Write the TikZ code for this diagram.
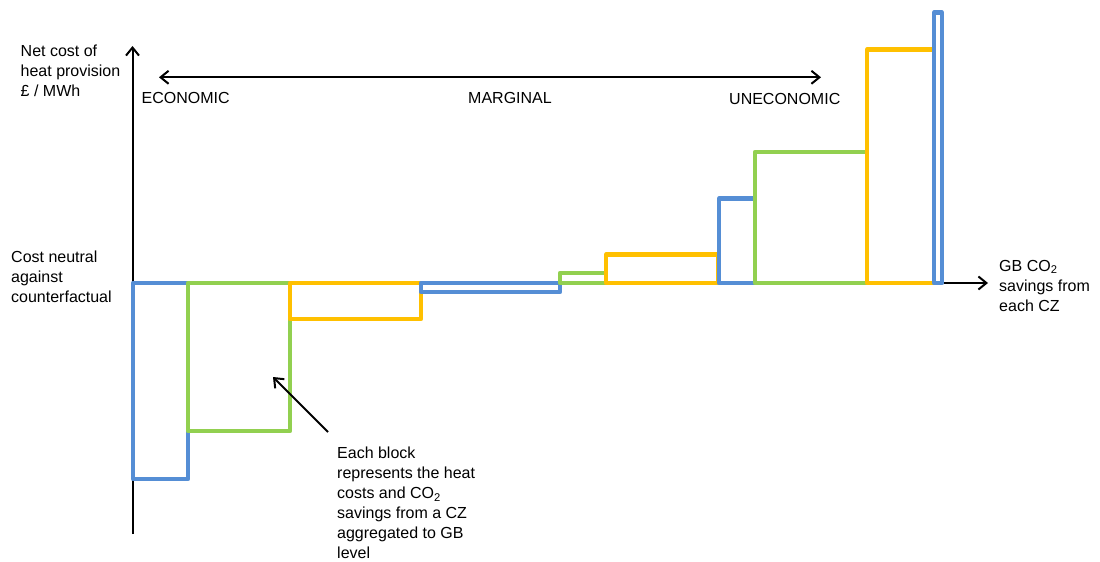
\documentclass[tikz,border=0pt]{standalone}
\usepackage{fontspec}
\setmainfont{Liberation Sans}
\usetikzlibrary{arrows.meta}
\definecolor{cblue}{RGB}{85,142,213}
\definecolor{cgreen}{RGB}{146,208,80}
\definecolor{corange}{RGB}{255,192,0}
\tikzset{
  lbl/.style={anchor=north west,inner sep=0pt,align=left,font=\fontsize{16}{20}\selectfont},
  axisline/.style={line width=2pt,-{Straight Barb[length=8pt,width=13pt,line width=2pt]}},
  dblarrow/.style={line width=2pt,{Straight Barb[length=8pt,width=13pt]}-{Straight Barb[length=8pt,width=13pt]}},
  block/.style={line width=4.2pt,line join=round}
}
\begin{document}
\begin{tikzpicture}[x=1pt,y=-1pt]
\useasboundingbox (0,0) rectangle (1100,562);
% axes
\coordinate (ybot) at (132.5,534);
\coordinate (ytop) at (132.5,46);
\coordinate (orig) at (133,283);
\coordinate (xend) at (988,283);
\draw[axisline] (ybot) -- (ytop);
\draw[line width=2pt] (orig) -- (942,283);
% blocks
\draw[block,cblue]   (133,283) rectangle (188,479);
\draw[block,cgreen]  (188,283) rectangle (290,431);
\draw[block,corange] (290,283) rectangle (421,319);
\draw[block,cblue]   (421,283) rectangle (560,292);
\draw[block,cgreen]  (560,273) rectangle (606,283);
\draw[block,corange] (606,254.5) rectangle (718,283);
\draw[block,cblue]   (719,198.5) rectangle (755,283);
\draw[block,cgreen]  (755,152) rectangle (867,283);
\draw[block,corange] (867,49.5) rectangle (934,283);
\draw[block,cblue]   (934,12.5) rectangle (942,283);
\coordinate (xstart) at (944,283);
\draw[axisline] (xstart) -- (xend);
% top double arrow
\coordinate (dl) at (159,77.3);
\coordinate (dr) at (821,77.3);
\draw[dblarrow] (dl) -- (dr);
% labels
\node[lbl] (ylab) at (20.5,45) {Net cost of\\heat provision\\£ / MWh};
\node[lbl] (neutral) at (11,251) {Cost neutral\\against\\counterfactual};
\node[lbl] (xlab) at (999,260) {GB CO\textsubscript{2}\\savings from\\each CZ};
\node[lbl] (eco) at (141.5,91.7) {ECONOMIC};
\node[lbl] (marg) at (468,91.7) {MARGINAL};
\node[lbl] (uneco) at (729,92.7) {UNECONOMIC};
\node[lbl] (note) at (337,447) {Each block\\represents the heat\\costs and CO\textsubscript{2}\\savings from a CZ\\aggregated to GB\\level};
% annotation arrow
\coordinate (ntail) at (328,432);
\coordinate (ntip) at (273,377);
\draw[line width=2pt,-{Straight Barb[length=8pt,width=13pt]}] (ntail) -- (ntip);
\end{tikzpicture}
\end{document}
